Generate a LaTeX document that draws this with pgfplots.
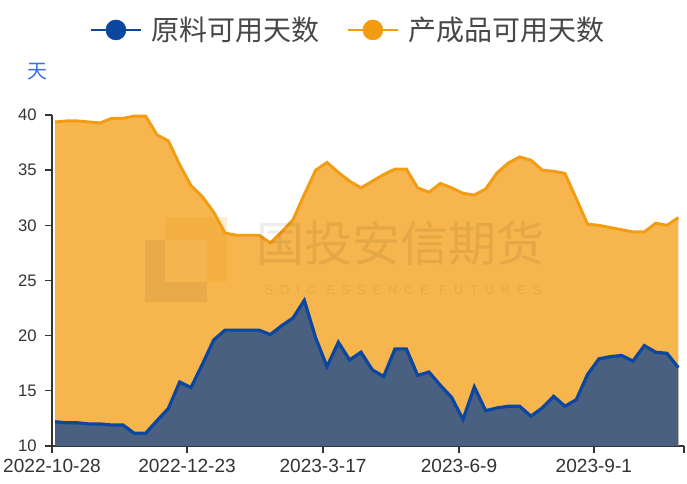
\documentclass[border=0pt]{standalone}
\usepackage{fontspec}
\setmainfont{Liberation Sans}
\newfontfamily\cjk{Noto Sans CJK SC}
\usepackage{pgfplots}
\usepackage{pgfplotstable}
\pgfplotsset{compat=1.18}

\definecolor{orgline}{HTML}{F39C12}
\definecolor{orgfill}{HTML}{F6B54D}
\definecolor{bluline}{HTML}{0B47A1}
\definecolor{blufill}{HTML}{4A6080}
\definecolor{axgray}{HTML}{333333}
\definecolor{unitblue}{HTML}{3F6FD8}

% 原料可用天数, weekly, index 0..55
\pgfplotstableread{
i v
0 12.2
1 12.1
2 12.1
3 12.0
4 12.0
5 11.9
6 11.9
7 11.15
8 11.15
9 12.3
10 13.4
11 15.8
12 15.3
13 17.4
14 19.6
15 20.5
16 20.5
17 20.5
18 20.5
19 20.1
20 20.9
21 21.6
22 23.2
23 19.8
24 17.2
25 19.4
26 17.8
27 18.5
28 16.9
29 16.3
30 18.8
31 18.8
32 16.4
33 16.7
34 15.5
35 14.4
36 12.4
37 15.35
38 13.2
39 13.45
40 13.6
41 13.6
42 12.7
43 13.45
44 14.5
45 13.6
46 14.2
47 16.5
48 17.9
49 18.1
50 18.2
51 17.7
52 19.1
53 18.5
54 18.4
55 17.1
}\rawdays

% 产成品可用天数
\pgfplotstableread{
i v
0 39.37
1 39.46
2 39.46
3 39.37
4 39.28
5 39.7
6 39.7
7 39.9
8 39.9
9 38.2
10 37.65
11 35.5
12 33.6
13 32.6
14 31.2
15 29.3
16 29.1
17 29.1
18 29.1
19 28.4
20 29.4
21 30.5
22 32.8
23 35.0
24 35.7
25 34.8
26 34.0
27 33.4
28 34.0
29 34.6
30 35.1
31 35.1
32 33.4
33 33.0
34 33.8
35 33.4
36 32.9
37 32.75
38 33.3
39 34.75
40 35.65
41 36.2
42 35.9
43 35.0
44 34.9
45 34.7
46 32.4
47 30.1
48 30.0
49 29.8
50 29.6
51 29.4
52 29.4
53 30.2
54 30.0
55 30.7
}\findays

\begin{document}
\begin{tikzpicture}
\useasboundingbox (-39pt,-28.5pt) rectangle (476.25pt,334.5pt);
\begin{axis}[
    at={(0,0)}, anchor=south west,
    scale only axis,
    width=474pt, height=248.25pt,
    xmin=-0.265, xmax=55.5,
    ymin=10, ymax=40,
    clip mode=individual,
    axis x line*=bottom, axis y line*=left,
    axis line style={axgray, line width=1pt},
    tick style={axgray, line width=1pt},
    tick align=outside, major tick length=5pt,
    xtick={-0.265,11.65,23.65,35.65,47.55,55.5},
    xticklabels={2022-10-28,2022-12-23,2023-3-17,2023-6-9,2023-9-1,{}},
    ytick={10,15,...,40},
    tick label style={text=axgray},
    xticklabel style={font=\fontsize{14.3}{16}\selectfont, yshift=-1pt},
    yticklabel style={font=\fontsize{12.5}{15}\selectfont, xshift=-3pt},
    /pgf/number format/assume math mode=true,
    legend style={at={(0.469,1.257)}, anchor=center, draw=none, fill=none,
        font=\cjk\fontsize{21}{24}\selectfont, text=black!72,
        /tikz/every odd column/.append style={column sep=5pt},
        /tikz/every even column/.append style={column sep=18pt}},
    legend columns=2,
    legend image code/.code={
        \draw[#1, line width=1.7pt] (0pt,0pt) -- (38pt,0pt);
        \fill[#1] (19pt,0pt) circle (7.5pt);},
]
\addplot[draw=none, fill=orgfill, forget plot] table[x=i, y=v] {\findays} \closedcycle;
\addplot[orgline, line width=2.2pt, forget plot] table[x=i, y=v] {\findays};
\addplot[draw=none, fill=blufill, forget plot] table[x=i, y=v] {\rawdays} \closedcycle;
\addplot[bluline, line width=2.4pt, forget plot] table[x=i, y=v] {\rawdays};

\addlegendimage{bluline}
\addlegendentry{原料可用天数}
\addlegendimage{orgline}
\addlegendentry{产成品可用天数}

% watermark
\fill[orgline, opacity=0.18] (axis cs:9.71,24.87) rectangle (axis cs:15.18,30.76);
\fill[white, opacity=0.06] (axis cs:9.71,24.87) rectangle (axis cs:13.42,28.68);
\fill[black, opacity=0.05] (axis cs:7.94,23.06) rectangle (axis cs:9.71,28.68);
\fill[black, opacity=0.05] (axis cs:9.71,23.06) rectangle (axis cs:13.42,24.87);
\node[black, opacity=0.07, font=\cjk\fontsize{36}{40}\selectfont] at (axis cs:30.45,28.4) {国投安信期货};
\node[black, opacity=0.06, font=\fontsize{9.5}{10}\selectfont\addfontfeature{LetterSpace=55}] at (axis cs:30.7,24.1) {SDIC ESSENCE FUTURES};

\node[unitblue, font=\cjk\fontsize{15}{17}\selectfont] at (rel axis cs:-0.0237,1.13) {天};
\end{axis}
\end{tikzpicture}
\end{document}
